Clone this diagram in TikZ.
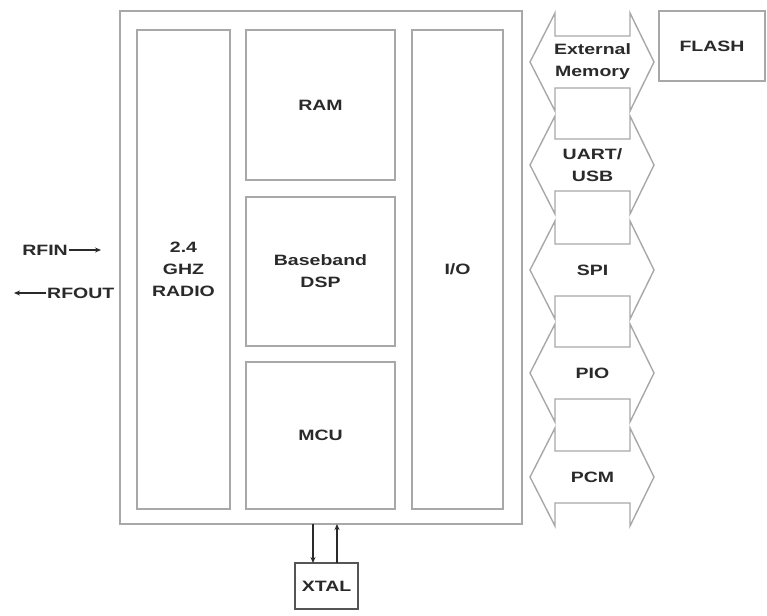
\documentclass[tikz,border=0pt]{standalone}
\usepackage{fontspec}
\setmainfont[FakeStretch=1.3]{Liberation Sans}
\usetikzlibrary{arrows.meta,calc}
\definecolor{boxgray}{HTML}{A8A8A8}
\definecolor{txtgray}{HTML}{2A2A2A}
\begin{document}
\begin{tikzpicture}[x=1pt,y=-1pt,
  box/.style={draw=boxgray,line width=1.6pt,fill=white,inner sep=0pt,outer sep=0pt},
  lbl/.style={text=txtgray,font=\fontsize{15}{22}\selectfont\bfseries,align=center,inner sep=1pt},
  dbl/.style={draw=boxgray,line width=1.4pt,fill=white,line join=miter},
  sig/.style={draw=txtgray,line width=1.1pt,-{Stealth[length=6pt,width=5pt]}}]
\useasboundingbox[fill=white] (0,0) rectangle (767,615);
% chip outline
\node[box,minimum width=402,minimum height=513] (chip) at (321,267.5) {};
\node[box,minimum width=93,minimum height=479] (radio) at (183.5,269.5) {};
\node[box,minimum width=149,minimum height=150] (ram) at (320.5,105) {};
\node[box,minimum width=149,minimum height=149] (dsp) at (320.5,271.5) {};
\node[box,minimum width=149,minimum height=147] (mcu) at (320.5,435.5) {};
\node[box,minimum width=91,minimum height=479] (io) at (457.5,269.5) {};
\node[lbl] at (radio.center) {2.4\\GHZ\\RADIO};
\node[lbl] at (ram.center) {RAM};
\node[lbl] at (dsp.center) {Baseband\\DSP};
\node[lbl] at (mcu.center) {MCU};
\node[lbl] at (io.center) {I/O};
% FLASH
\node[box,minimum width=106,minimum height=70] (flash) at (712,46) {};
\node[lbl] at (flash.center) {FLASH};
% interface double arrows
\foreach \c/\n/\t in {62/a1/{External\\Memory},165/a2/{UART/\\USB},270/a3/{SPI},373/a4/{PIO},477/a5/{PCM}}{
  \draw[dbl] (530,\c) -- (555,\c-49) -- (555,\c-26) -- (630,\c-26) -- (630,\c-49)
    -- (654,\c) -- (630,\c+49) -- (630,\c+26) -- (555,\c+26) -- (555,\c+49) -- cycle;
  \node[lbl] (\n) at (592.5,\c) {\t};
}
% RF
\node[lbl,anchor=east] (rfin) at (69,250) {RFIN};
\coordinate (rfinend) at (101,250);
\draw[sig] (rfin.east) -- (rfinend);
\node[lbl,anchor=west] (rfout) at (46,293) {RFOUT};
\coordinate (rfoutend) at (14,293);
\draw[sig] (rfout.west) -- (rfoutend);
% XTAL
\node[box,line width=1.4pt,draw=txtgray!80,minimum width=63,minimum height=46] (xtal) at (326.5,586) {};
\node[lbl] at (xtal.center) {XTAL};
\draw[sig] (chip.south -| 313,0) -- (xtal.north -| 313,0);
\draw[sig] (xtal.north -| 337,0) -- (chip.south -| 337,0);
\end{tikzpicture}
\end{document}
